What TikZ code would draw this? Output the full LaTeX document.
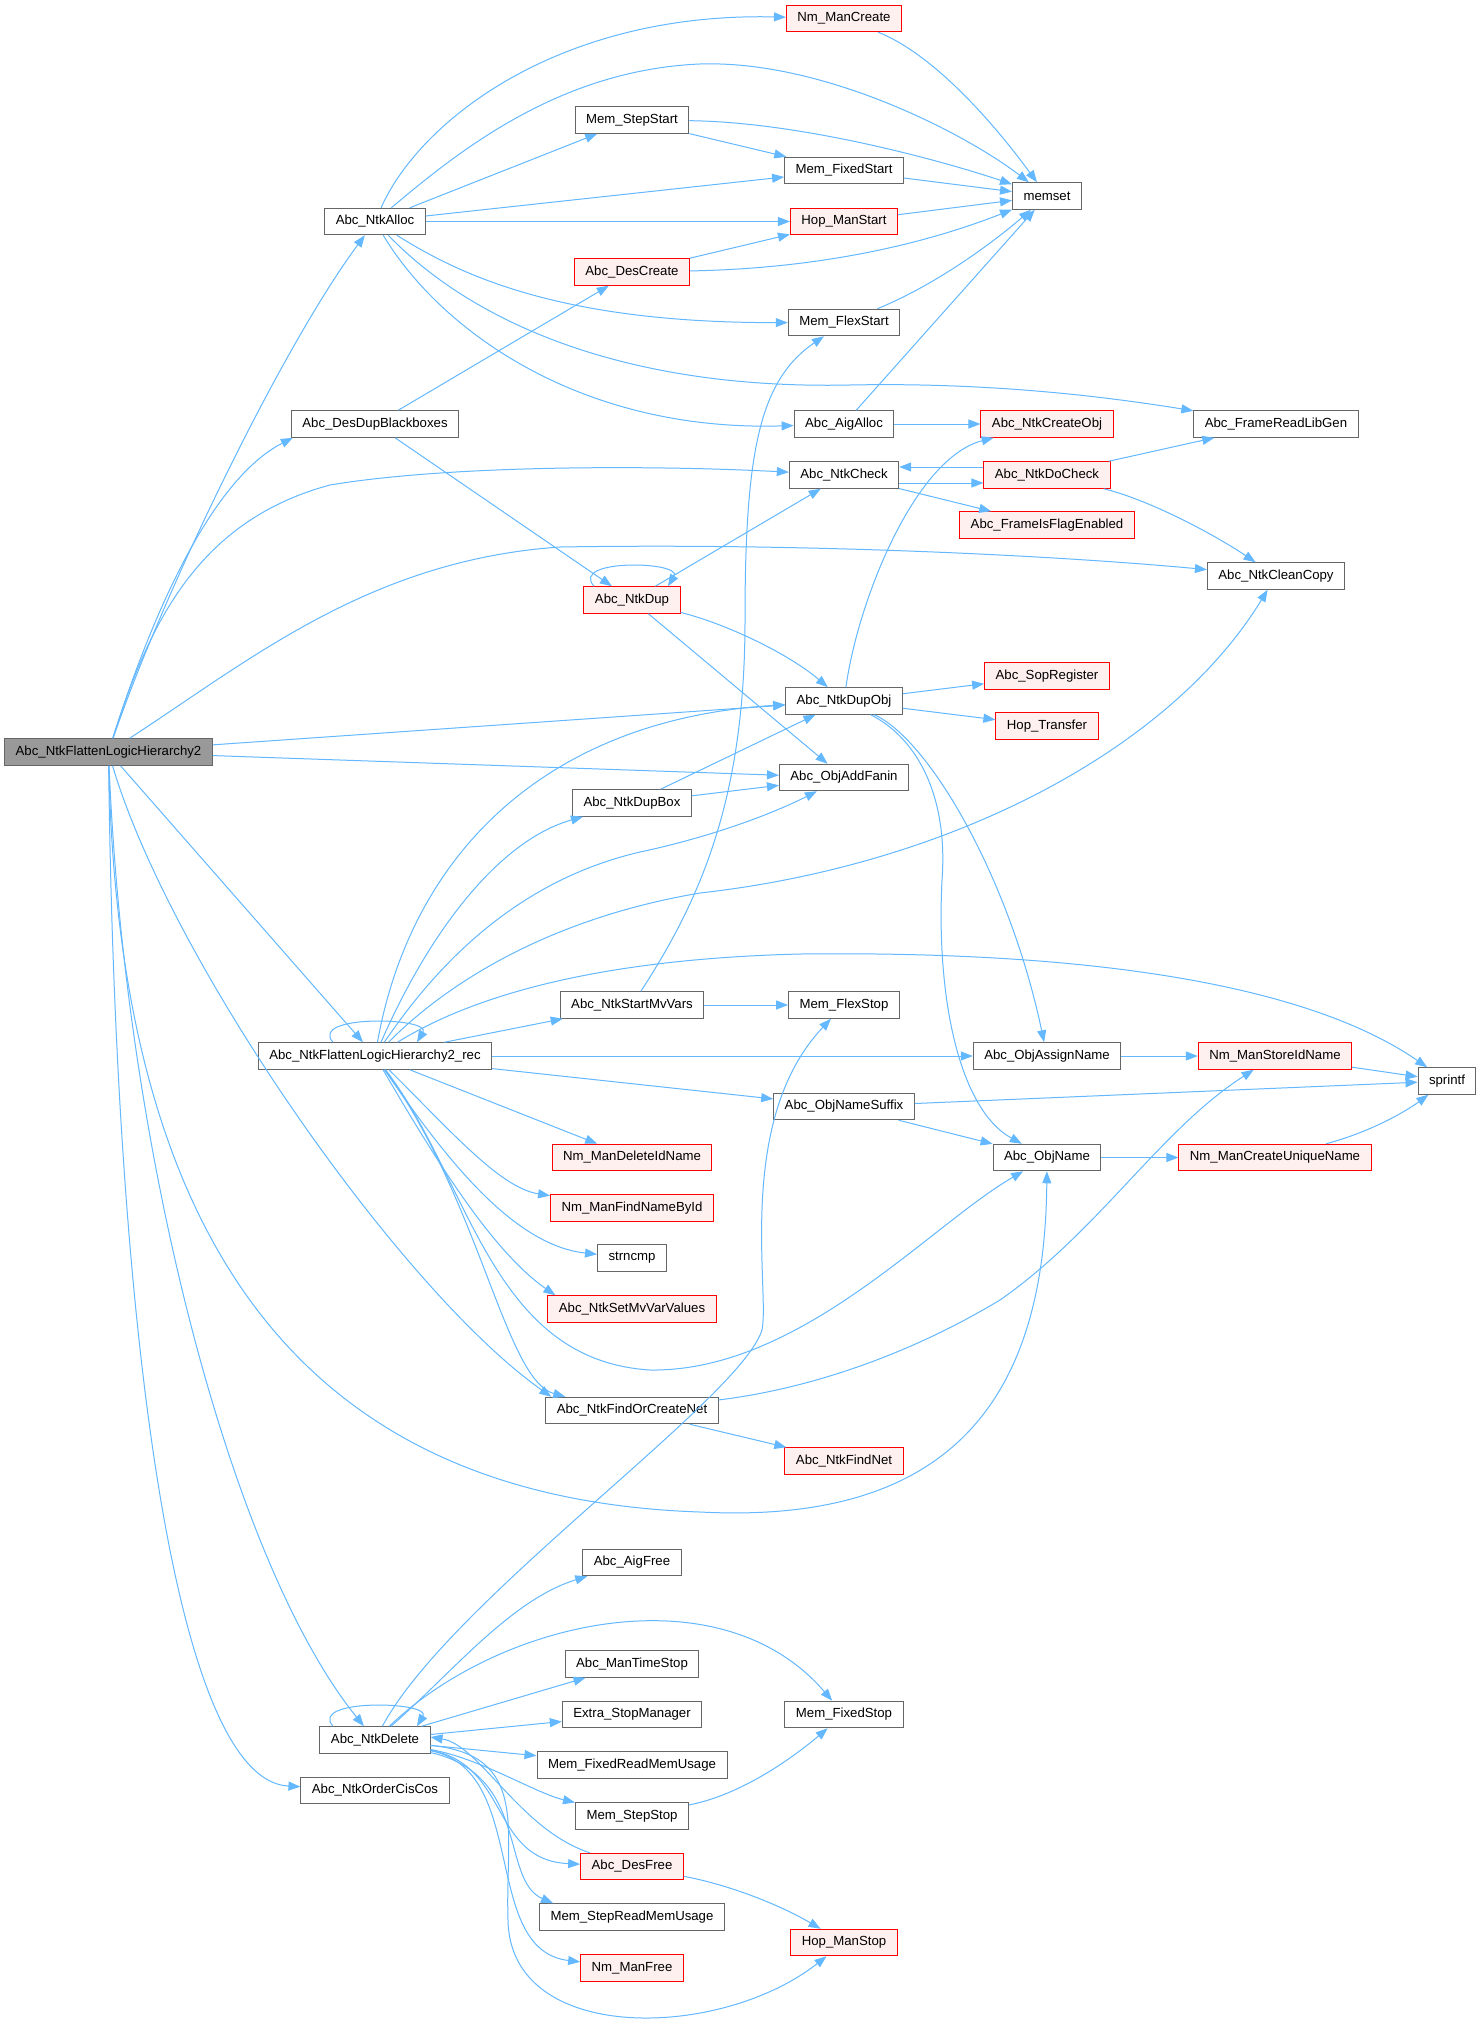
\documentclass[tikz,border=0pt]{standalone}
\usepackage{fontspec}
\setmainfont{Liberation Sans}
\usetikzlibrary{arrows.meta}
\definecolor{cgrey}{HTML}{666666}
\definecolor{cred}{HTML}{FF0000}
\definecolor{cpink}{HTML}{FFF0F0}
\definecolor{croot}{HTML}{999999}
\definecolor{cedge}{HTML}{63B8FF}
\tikzset{
  every picture/.style={line width=1pt},
  fn/.style={draw=cgrey, fill=white, inner xsep=11pt, inner ysep=0pt, minimum height=26.5pt, font=\fontsize{13.2}{16}\selectfont},
  fnred/.style={fn, draw=cred, fill=cpink},
  fnroot/.style={fn, fill=croot},
  call/.style={-{Triangle[length=12pt, width=9pt]}, draw=cedge, line width=1pt},
}

\begin{document}
\begin{tikzpicture}[x=1pt, y=-1pt]
  \path[use as bounding box, fill=white] (0,0) rectangle (1481,2028);
  % rank 0
  \node[fnroot] (flat) at (108.5,752) {Abc\_NtkFlattenLogicHierarchy2};
  % rank 1
  \node[fn] (alloc) at (375,221.5) {Abc\_NtkAlloc};
  \node[fn] (dupbb) at (375,424) {Abc\_DesDupBlackboxes};
  \node[fn] (rec) at (375,1056) {Abc\_NtkFlattenLogicHierarchy2\_rec};
  \node[fn] (del) at (375,1740) {Abc\_NtkDelete};
  \node[fn] (order) at (375,1790.5) {Abc\_NtkOrderCisCos};
  % rank 2
  \node[fn] (stepstart) at (632,120) {Mem\_StepStart};
  \node[fnred] (descreate) at (632,272) {Abc\_DesCreate};
  \node[fnred] (ntkdup) at (632,600) {Abc\_NtkDup};
  \node[fn] (dupbox) at (632,803) {Abc\_NtkDupBox};
  \node[fn] (startmv) at (632,1005) {Abc\_NtkStartMvVars};
  \node[fnred] (delidname) at (632,1157.5) {Nm\_ManDeleteIdName};
  \node[fnred] (findname) at (632,1208) {Nm\_ManFindNameById};
  \node[fn] (strncmp) at (632,1258) {strncmp};
  \node[fnred] (setmv) at (632,1309) {Abc\_NtkSetMvVarValues};
  \node[fn] (findcreate) at (632,1410.5) {Abc\_NtkFindOrCreateNet};
  \node[fn] (aigfree) at (632,1562.5) {Abc\_AigFree};
  \node[fn] (timestop) at (632,1664) {Abc\_ManTimeStop};
  \node[fn] (extrastop) at (632,1714.5) {Extra\_StopManager};
  \node[fn] (fixedread) at (632,1765) {Mem\_FixedReadMemUsage};
  \node[fn] (stepstop) at (632,1816) {Mem\_StepStop};
  \node[fnred] (desfree) at (632,1866.5) {Abc\_DesFree};
  \node[fn] (stepread) at (632,1917) {Mem\_StepReadMemUsage};
  \node[fnred] (nmfree) at (632,1968) {Nm\_ManFree};
  % rank 3
  \node[fnred] (nmcreate) at (844,18.5) {Nm\_ManCreate};
  \node[fn] (fixedstart) at (844,170.5) {Mem\_FixedStart};
  \node[fnred] (hopstart) at (844,221.5) {Hop\_ManStart};
  \node[fn] (flexstart) at (844,322.5) {Mem\_FlexStart};
  \node[fn] (aigalloc) at (844,424) {Abc\_AigAlloc};
  \node[fn] (check) at (844,475) {Abc\_NtkCheck};
  \node[fn] (dupobj) at (844,701) {Abc\_NtkDupObj};
  \node[fn] (addfanin) at (844,777.5) {Abc\_ObjAddFanin};
  \node[fn] (flexstop) at (844,1005) {Mem\_FlexStop};
  \node[fn] (namesuffix) at (844,1106.5) {Abc\_ObjNameSuffix};
  \node[fnred] (findnet) at (844,1461) {Abc\_NtkFindNet};
  \node[fn] (fixedstop) at (844,1714.5) {Mem\_FixedStop};
  \node[fnred] (hopstop) at (844,1942.5) {Hop\_ManStop};
  % rank 4
  \node[fn] (memset) at (1047,196) {memset};
  \node[fnred] (createobj) at (1047,424) {Abc\_NtkCreateObj};
  \node[fnred] (docheck) at (1047,475) {Abc\_NtkDoCheck};
  \node[fnred] (flagen) at (1047,525) {Abc\_FrameIsFlagEnabled};
  \node[fnred] (sopreg) at (1047,676) {Abc\_SopRegister};
  \node[fnred] (transfer) at (1047,726) {Hop\_Transfer};
  \node[fn] (assign) at (1047,1056) {Abc\_ObjAssignName};
  \node[fn] (objname) at (1047,1157.5) {Abc\_ObjName};
  % rank 5 and 6
  \node[fn] (libgen) at (1276,424) {Abc\_FrameReadLibGen};
  \node[fn] (cleancopy) at (1276,576) {Abc\_NtkCleanCopy};
  \node[fnred] (storeid) at (1275,1056) {Nm\_ManStoreIdName};
  \node[fnred] (uniq) at (1275,1157.5) {Nm\_ManCreateUniqueName};
  \node[fn] (sprintf) at (1447,1081) {sprintf};

  % calls of the root
  \draw[call] (flat) .. controls (160,600) and (280,350) .. (alloc);
  \draw[call] (flat) .. controls (150,620) and (210,480) .. ([xshift=2pt]dupbb.south west);
  \draw[call] (flat) .. controls (150,620) and (200,520) .. (330,485) .. controls (450,465) and (650,465) .. (check);
  \draw[call] (flat) .. controls (250,660) and (370,560) .. (560,547) .. controls (800,543) and (1050,555) .. (cleancopy);
  \draw[call] (flat) -- (dupobj);
  \draw[call] (flat) -- (addfanin);
  \draw[call] (flat) -- (rec);
  \draw[call] (flat) .. controls (170,960) and (400,1290) .. ([xshift=6pt]findcreate.north west);
  \draw[call] (flat) .. controls (120,1300) and (350,1500) .. (700,1512) .. controls (950,1525) and (1045,1400) .. (objname);
  \draw[call] (flat) .. controls (125,1150) and (230,1560) .. (del);
  \draw[call] (flat) .. controls (115,1300) and (170,1780) .. (order);

  % Abc_NtkAlloc
  \draw[call] (alloc) .. controls (420,120) and (560,12) .. (nmcreate);
  \draw[call] (alloc) .. controls (460,150) and (560,70) .. (700,64) .. controls (820,60) and (960,130) .. (memset);
  \draw[call] (alloc) -- (stepstart);
  \draw[call] (alloc) -- (fixedstart);
  \draw[call] (alloc) -- (hopstart);
  \draw[call] (alloc) .. controls (460,275) and (560,323) .. (flexstart);
  \draw[call] (alloc) .. controls (470,320) and (620,390) .. (850,385) .. controls (1000,382) and (1120,399) .. (libgen);
  \draw[call] (alloc) .. controls (440,330) and (580,432) .. (aigalloc);

  % Abc_DesDupBlackboxes
  \draw[call] (dupbb) -- (descreate);
  \draw[call] (dupbb) -- (ntkdup);

  % the recursive one
  \draw[call] ([xshift=-42pt]rec.north) .. controls +(-25,-28) and +(15,-25) .. ([xshift=42pt]rec.north);
  \draw[call] (rec) .. controls (410,860) and (540,720) .. (dupobj);
  \draw[call] (rec) .. controls (430,930) and (500,840) .. (dupbox);
  \draw[call] (rec) .. controls (440,960) and (520,880) .. (640,852) .. controls (720,835) and (780,810) .. (addfanin);
  \draw[call] (rec) .. controls (440,990) and (540,920) .. (700,893) .. controls (950,865) and (1170,750) .. (cleancopy);
  \draw[call] (rec) .. controls (450,1010) and (560,960) .. (800,954) .. controls (1150,950) and (1330,1000) .. (sprintf);
  \draw[call] (rec) -- (startmv);
  \draw[call] (rec) -- (assign);
  \draw[call] (rec) -- (namesuffix);
  \draw[call] (rec) -- (delidname);
  \draw[call] (rec) .. controls (450,1130) and (500,1188) .. (findname);
  \draw[call] (rec) .. controls (440,1150) and (510,1245) .. (strncmp);
  \draw[call] (rec) .. controls (430,1150) and (490,1250) .. ([xshift=8pt]setmv.north west);
  \draw[call] (rec) .. controls (480,1200) and (505,1380) .. ([xshift=20pt]findcreate.north west);
  \draw[call] (rec) .. controls (470,1180) and (490,1360) .. (650,1370) .. controls (800,1372) and (930,1225) .. (objname);

  % Abc_NtkDelete
  \draw[call] ([xshift=-42pt]del.north) .. controls +(-25,-28) and +(15,-25) .. ([xshift=42pt]del.north);
  \draw[call] (del) .. controls (450,1600) and (740,1400) .. (762,1330) .. controls (770,1290) and (735,1120) .. (flexstop);
  \draw[call] (del) .. controls (450,1675) and (510,1600) .. (aigfree);
  \draw[call] (del) .. controls (500,1620) and (720,1570) .. (fixedstop);
  \draw[call] (del) -- (timestop);
  \draw[call] (del) -- (extrastop);
  \draw[call] (del) -- (fixedread);
  \draw[call] (del) .. controls (480,1758) and (535,1793) .. (stepstop);
  \draw[call] (del) .. controls (510,1765) and (490,1860) .. (desfree);
  \draw[call] (del) .. controls (530,1775) and (500,1880) .. ([xshift=14pt]stepread.north west);
  \draw[call] (del) .. controls (530,1770) and (480,1950) .. (nmfree);
  \draw[call] (del) .. controls (530,1755) and (505,1830) .. (508,1920) .. controls (510,2045) and (720,2040) .. (hopstop);
  \draw[call] (desfree) .. controls (520,1830) and (480,1745) .. ([yshift=3pt]del.east);
  \draw[call] (desfree) .. controls (730,1885) and (780,1905) .. (hopstop);
  \draw[call] (stepstop) .. controls (740,1795) and (790,1760) .. (fixedstop);

  % duplication
  \draw[call] ([xshift=-38pt]ntkdup.north) .. controls +(-25,-28) and +(15,-25) .. ([xshift=36pt]ntkdup.north);
  \draw[call] (ntkdup) -- (check);
  \draw[call] (ntkdup) .. controls (730,625) and (790,655) .. (dupobj);
  \draw[call] (ntkdup) -- (addfanin);
  \draw[call] (dupbox) -- (dupobj);
  \draw[call] (dupbox) -- (addfanin);
  \draw[call] (dupobj) .. controls (858,600) and (915,458) .. (createobj);
  \draw[call] (dupobj) -- (sopreg);
  \draw[call] (dupobj) -- (transfer);
  \draw[call] (dupobj) .. controls (930,740) and (1010,880) .. (assign);
  \draw[call] (dupobj) .. controls (920,740) and (948,800) .. (942,880) .. controls (936,1000) and (960,1110) .. (objname);

  % checking
  \draw[call] ([yshift=-8pt]check.east) -- ([yshift=-8pt]docheck.west);
  \draw[call] (check) -- (flagen);
  \draw[call] ([yshift=8pt]docheck.west) -- ([yshift=8pt]check.east);
  \draw[call] (docheck) -- (libgen);
  \draw[call] (docheck) .. controls (1150,500) and (1215,535) .. (cleancopy);

  % into memset
  \draw[call] (nmcreate) .. controls (935,55) and (995,125) .. (memset);
  \draw[call] (stepstart) .. controls (800,122) and (940,160) .. (memset);
  \draw[call] (stepstart) -- (fixedstart);
  \draw[call] (fixedstart) -- (memset);
  \draw[call] (hopstart) -- (memset);
  \draw[call] (descreate) -- (hopstart);
  \draw[call] (descreate) .. controls (850,268) and (955,232) .. (memset);
  \draw[call] (flexstart) .. controls (935,285) and (990,245) .. (memset);
  \draw[call] (aigalloc) -- (memset);
  \draw[call] (aigalloc) -- (createobj);

  % names and the rest
  \draw[call] (startmv) .. controls (700,900) and (745,800) .. (745,620) .. controls (745,450) and (760,380) .. (flexstart);
  \draw[call] (startmv) -- (flexstop);
  \draw[call] (assign) -- (storeid);
  \draw[call] (storeid) -- (sprintf);
  \draw[call] (namesuffix) -- (sprintf);
  \draw[call] (namesuffix) -- (objname);
  \draw[call] (objname) -- (uniq);
  \draw[call] (uniq) .. controls (1370,1132) and (1405,1112) .. (sprintf);
  \draw[call] (findcreate) .. controls (800,1390) and (900,1360) .. (1000,1300) .. controls (1100,1230) and (1160,1130) .. (storeid);
  \draw[call] (findcreate) -- (findnet);
\end{tikzpicture}
\end{document}
